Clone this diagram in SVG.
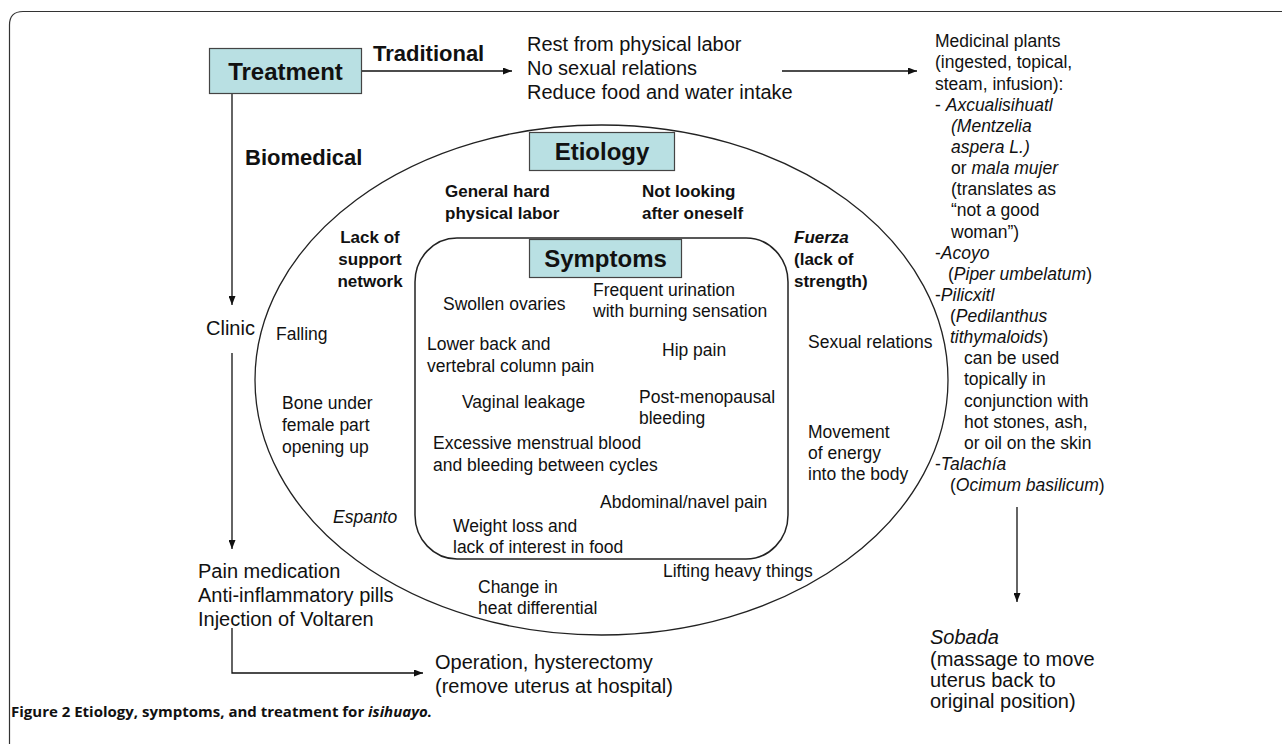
<svg xmlns="http://www.w3.org/2000/svg" width="1282" height="744" viewBox="0 0 1282 744">
<defs>
<marker id="ah" markerWidth="9" markerHeight="7" refX="9" refY="3.5" orient="auto" markerUnits="userSpaceOnUse">
<path d="M0,0 L9,3.5 L0,7 z" fill="#111"/>
</marker>
<style>
text { font-family: "Liberation Sans", Arial, Helvetica, sans-serif; fill: #111; }
.r { font-size: 17.5px; }
.m { font-size: 20px; }
.lb { font-size: 17px; font-weight: bold; }
.big { font-size: 22px; font-weight: bold; }
.title { font-size: 24px; font-weight: bold; }
.i { font-style: italic; }
.box { fill: #b9e0e3; stroke: #444; stroke-width: 1.2; }
.conn { fill: none; stroke: #111; stroke-width: 1.3; }
.shape { fill: none; stroke: #222; stroke-width: 1.3; }
.cap { font-family: "Open Sans", "Liberation Sans", Arial, sans-serif; font-size: 15px; font-weight: bold; }
</style>
</defs>
<rect width="1282" height="744" fill="#fff"/>
<path d="M9.5,744 V25 Q9.5,11.5 23,11.5 H1282" fill="none" stroke="#333" stroke-width="1.2"/>

<g id="connectors">
<path class="conn" d="M362,71 H512" marker-end="url(#ah)"/>
<path class="conn" d="M782,71 H917" marker-end="url(#ah)"/>
<path class="conn" d="M232,94 V305" marker-end="url(#ah)"/>
<path class="conn" d="M232,353 V549" marker-end="url(#ah)"/>
<path class="conn" d="M232,628 V673 H423" marker-end="url(#ah)"/>
<path class="conn" d="M1017,507 V602" marker-end="url(#ah)"/>
</g>

<g id="treatment">
<rect class="box" x="209.5" y="48.5" width="152" height="45"/>
<text class="title" x="285.5" y="80" text-anchor="middle">Treatment</text>
</g>
<g id="label-traditional"><text class="big" x="373" y="61">Traditional</text></g>
<g id="label-biomedical"><text class="big" x="245" y="165">Biomedical</text></g>

<g id="traditional-care">
<text class="m" x="527" y="51">Rest from physical labor</text>
<text class="m" x="527" y="75">No sexual relations</text>
<text class="m" x="527" y="99">Reduce food and water intake</text>
</g>

<g id="medicinal-plants">
<text class="r" x="935" y="47">Medicinal plants</text>
<text class="r" x="935" y="68">(ingested, topical,</text>
<text class="r" x="935" y="89.5">steam, infusion):</text>
<text class="r" x="935" y="110.5">- <tspan class="i">Axcualisihuatl</tspan></text>
<text class="r i" x="951" y="131.5">(Mentzelia</text>
<text class="r i" x="951" y="153">aspera L.)</text>
<text class="r" x="951" y="174">or <tspan class="i">mala mujer</tspan></text>
<text class="r" x="951" y="195">(translates as</text>
<text class="r" x="951" y="216">“not a good</text>
<text class="r" x="951" y="237.5">woman”)</text>
<text class="r" x="935" y="258.5">-<tspan class="i">Acoyo</tspan></text>
<text class="r" x="948" y="279.5">(<tspan class="i">Piper umbelatum</tspan>)</text>
<text class="r" x="935" y="300.5">-<tspan class="i">Pilicxitl</tspan></text>
<text class="r" x="950" y="322">(<tspan class="i">Pedilanthus</tspan></text>
<text class="r" x="950" y="343"><tspan class="i">tithymaloids</tspan>)</text>
<text class="r" x="964" y="364">can be used</text>
<text class="r" x="964" y="385">topically in</text>
<text class="r" x="964" y="406.5">conjunction with</text>
<text class="r" x="964" y="427.5">hot stones, ash,</text>
<text class="r" x="964" y="448.5">or oil on the skin</text>
<text class="r" x="935" y="470">-<tspan class="i">Talachía</tspan></text>
<text class="r" x="950" y="491">(<tspan class="i">Ocimum basilicum</tspan>)</text>
</g>

<g id="sobada">
<text class="m i" x="930" y="644">Sobada</text>
<text class="m" x="930" y="665.5">(massage to move</text>
<text class="m" x="930" y="687">uterus back to</text>
<text class="m" x="930" y="708">original position)</text>
</g>

<g id="clinic"><text class="m" x="206" y="335">Clinic</text></g>

<g id="biomedical-care">
<text class="m" x="198" y="578">Pain medication</text>
<text class="m" x="198" y="602">Anti-inflammatory pills</text>
<text class="m" x="198" y="626">Injection of Voltaren</text>
</g>

<g id="operation">
<text class="m" x="435" y="669">Operation, hysterectomy</text>
<text class="m" x="435" y="693">(remove uterus at hospital)</text>
</g>

<g id="etiology">
<ellipse class="shape" cx="601.5" cy="380" rx="346.5" ry="255"/>
<rect class="box" x="529.5" y="132.5" width="145" height="38"/>
<text class="title" x="602" y="160" text-anchor="middle">Etiology</text>
<text class="lb" x="445" y="197">General hard</text>
<text class="lb" x="445" y="219">physical labor</text>
<text class="lb" x="642" y="197">Not looking</text>
<text class="lb" x="642" y="219">after oneself</text>
<text class="lb" x="370" y="243" text-anchor="middle">Lack of</text>
<text class="lb" x="370" y="265" text-anchor="middle">support</text>
<text class="lb" x="370" y="287" text-anchor="middle">network</text>
<text class="lb" x="794" y="243"><tspan class="i">Fuerza</tspan></text>
<text class="lb" x="794" y="265">(lack of</text>
<text class="lb" x="794" y="287">strength)</text>
<text class="r" x="276" y="340">Falling</text>
<text class="r" x="282" y="409">Bone under</text>
<text class="r" x="282" y="431">female part</text>
<text class="r" x="282" y="452.5">opening up</text>
<text class="r i" x="333" y="523">Espanto</text>
<text class="r" x="478" y="593">Change in</text>
<text class="r" x="478" y="614">heat differential</text>
<text class="r" x="663" y="577">Lifting heavy things</text>
<text class="r" x="808" y="348">Sexual relations</text>
<text class="r" x="808" y="438">Movement</text>
<text class="r" x="808" y="459">of energy</text>
<text class="r" x="808" y="480">into the body</text>
</g>

<g id="symptoms">
<rect class="shape" x="415" y="238" width="373" height="321" rx="42" ry="44" style="stroke-width:1.5"/>
<rect class="box" x="529.5" y="239.5" width="152" height="38"/>
<text class="title" x="605.5" y="267" text-anchor="middle">Symptoms</text>
<text class="r" x="443" y="310">Swollen ovaries</text>
<text class="r" x="593" y="296">Frequent urination</text>
<text class="r" x="593" y="317">with burning sensation</text>
<text class="r" x="427" y="350">Lower back and</text>
<text class="r" x="427" y="372">vertebral column pain</text>
<text class="r" x="662" y="356">Hip pain</text>
<text class="r" x="462" y="408">Vaginal leakage</text>
<text class="r" x="639" y="403">Post-menopausal</text>
<text class="r" x="639" y="424">bleeding</text>
<text class="r" x="433" y="449">Excessive menstrual blood</text>
<text class="r" x="433" y="471">and bleeding between cycles</text>
<text class="r" x="600" y="508">Abdominal/navel pain</text>
<text class="r" x="453" y="532">Weight loss and</text>
<text class="r" x="453" y="553">lack of interest in food</text>
</g>

<g id="caption">
<text class="cap" x="11" y="717">Figure 2 Etiology, symptoms, and treatment for <tspan font-style="italic">isihuayo.</tspan></text>
</g>
</svg>
